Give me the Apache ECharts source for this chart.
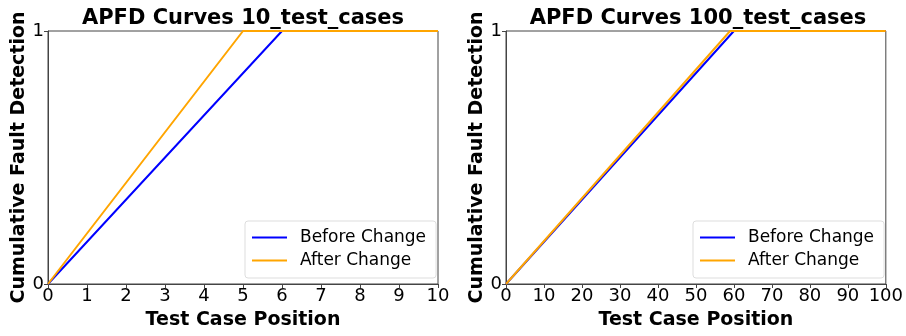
<!DOCTYPE html>
<html>
<head>
<meta charset="utf-8">
<script src="https://cdn.jsdelivr.net/npm/echarts@6/dist/echarts.min.js"></script>
<style>
  html, body { margin: 0; padding: 0; background: #fff; }
  #chart { width: 906px; height: 336px; }
</style>
</head>
<body>
<div id="chart"></div>
<script>
// Cumulative fault detection by test case position
const titles = ['APFD Curves 10_test_cases', 'APFD Curves 100_test_cases'];
const seriesNames = ['Before Change', 'After Change'];

// 10 test cases: [position, cumulative fraction detected]
const before10 = [[0, 0], [6, 1], [10, 1]];
const after10 = [[0, 0], [5, 1], [10, 1]];

// 100 test cases
const before100 = [[0, 0], [60, 1], [100, 1]];
const after100 = [[0, 0], [59, 1], [100, 1]];

const xMax = [10, 100];
const xStep = [1, 10];
const yTicks = [0, 1];

const FONT = 'DejaVu Sans';
const colors = ['#0000ff', '#ffa500'];

const grids = [
  { left: 48, right: 468, top: 31, bottom: 52 },
  { left: 506, right: 16, top: 31, bottom: 52 }
];

function xAxis(i) {
  return {
    type: 'value', gridIndex: i, min: 0, max: xMax[i], interval: xStep[i],
    name: 'Test Case Position', nameLocation: 'middle', nameGap: 27,
    nameTextStyle: { fontFamily: FONT, fontWeight: 'bold', fontSize: 19, color: '#000' },
    axisLine: { show: true, lineStyle: { color: '#444', width: 1 } },
    axisTick: { show: true, length: 4, lineStyle: { color: '#444' } },
    axisLabel: { fontFamily: FONT, fontSize: 18, color: '#000', margin: 3 },
    splitLine: { show: false }
  };
}
function yAxis(i) {
  return {
    type: 'value', gridIndex: i, min: yTicks[0], max: yTicks[yTicks.length - 1], interval: 1,
    name: 'Cumulative Fault Detection', nameLocation: 'middle', nameGap: 19,
    nameTextStyle: { fontFamily: FONT, fontWeight: 'bold', fontSize: 19, color: '#000' },
    axisLine: { show: true, lineStyle: { color: '#444', width: 1 } },
    axisTick: { show: true, length: 4, lineStyle: { color: '#444' } },
    axisLabel: { fontFamily: FONT, fontSize: 18, color: '#000', margin: 4 },
    splitLine: { show: false }
  };
}
function line(name, data, idx, color) {
  return {
    name: name, type: 'line', data: data, xAxisIndex: idx, yAxisIndex: idx,
    symbol: 'none', lineStyle: { color: color, width: 2 }, itemStyle: { color: color },
    animation: false
  };
}
function legend(left) {
  return {
    left: left, top: 221, orient: 'vertical', data: seriesNames,
    icon: 'rect', itemWidth: 35, itemHeight: 2, itemGap: 6,
    padding: [8, 10, 9, 7],
    borderColor: '#ddd', borderWidth: 1, borderRadius: 3,
    textStyle: { fontFamily: FONT, fontSize: 17, color: '#000', padding: [0, 0, 0, 8] }
  };
}

const chart = echarts.init(document.getElementById('chart'));
chart.setOption({
  animation: false,
  title: [
    { text: titles[0], left: 238, top: 3, textAlign: 'center',
      textStyle: { fontFamily: FONT, fontWeight: 'bold', fontSize: 21, color: '#000' } },
    { text: titles[1], left: 693, top: 3, textAlign: 'center',
      textStyle: { fontFamily: FONT, fontWeight: 'bold', fontSize: 21, color: '#000' } }
  ],
  grid: grids.map(g => Object.assign({ show: true, borderColor: '#444', borderWidth: 1 }, g)),
  xAxis: [xAxis(0), xAxis(1)],
  yAxis: [yAxis(0), yAxis(1)],
  legend: [legend(245), legend(693)],
  series: [
    line(seriesNames[0], before10, 0, colors[0]),
    line(seriesNames[1], after10, 0, colors[1]),
    line(seriesNames[0], before100, 1, colors[0]),
    line(seriesNames[1], after100, 1, colors[1])
  ]
});
</script>
</body>
</html>
